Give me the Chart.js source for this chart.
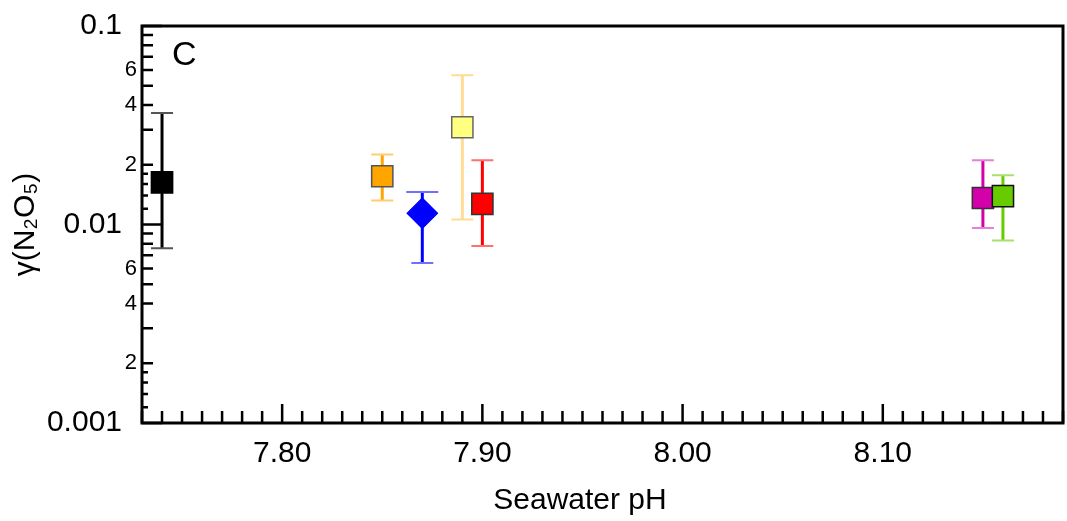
<!DOCTYPE html>
<html>
<head>
<meta charset="utf-8">
<script src="https://cdn.jsdelivr.net/npm/chart.js@4.4.1/dist/chart.umd.min.js"></script>
<style>
html, body { margin: 0; padding: 0; background: #fff; }
canvas { display: block; }
</style>
</head>
<body>
<canvas id="gammaChart" width="1067" height="521"></canvas>
<script>
// one entry per sample, in pH order
const phValues    = [7.74, 7.85, 7.87, 7.89, 7.90, 8.15, 8.16];
const gammaValues = [0.0163, 0.0175, 0.0114, 0.0309, 0.0127, 0.0136, 0.0139];
const gammaLow    = [0.0076, 0.0132, 0.0064, 0.0106, 0.0078, 0.0096, 0.0083];
const gammaHigh   = [0.0365, 0.0225, 0.0146, 0.0565, 0.0211, 0.0211, 0.0177];

const markerFill   = ['#000000', '#ffa500', '#0000ff', '#ffff80', '#ff0000', '#d400aa', '#66cc00'];
const markerBorder = ['#000000', '#555555', '#0000ff', '#666666', '#333333', '#333333', '#111111'];
const markerShape  = ['rect', 'rect', 'rectRot', 'rect', 'rect', 'rect', 'rect'];
const barColor     = ['#000000', '#ffa500', '#0000ff', '#ffdc96', '#ff0000', '#d400aa', '#66cc00'];
const capColor     = ['#555555', '#ffcc70', '#7070ff', '#ffdc96', '#ff7070', '#e680d5', '#a8e070'];
const capTopHalf   = [11, 11, 16, 11, 11, 11, 11];

// axis ticks
const yDecades   = [0.001, 0.01];
const yMantissas = [1, 1.2, 1.4, 1.6, 1.8, 2, 3, 4, 5, 6, 7, 8, 9];
const yLabelVals = [0.001, 0.002, 0.004, 0.006, 0.01, 0.02, 0.04, 0.06, 0.1];
const yLabels    = ['0.001', '2', '4', '6', '0.01', '2', '4', '6', '0.1'];
const xMin = 7.73, xMax = 8.19, xStep = 0.01;
const xLabelVals = [7.80, 7.90, 8.00, 8.10];

const FONT = "'Liberation Sans', Arial, sans-serif";
const same = (a, b) => Math.abs(a / b - 1) < 1e-6;
const isDecade = v => same(v, 0.001) || same(v, 0.01) || same(v, 0.1);

function yLabelFor(v){
  const i = yLabelVals.findIndex(l => same(v, l));
  if (i < 0) return '';
  return isDecade(v) ? yLabels[i] + '\u2002' : yLabels[i];
}

const frame = {
  id: 'frame',
  beforeDatasetsDraw(chart){
    const ctx = chart.ctx, xs = chart.scales.x, ys = chart.scales.y;
    ctx.save();
    phValues.forEach((ph, i) => {
      const x = xs.getPixelForValue(ph);
      const yt = ys.getPixelForValue(gammaHigh[i]);
      const yb = ys.getPixelForValue(gammaLow[i]);
      ctx.strokeStyle = barColor[i];
      ctx.lineWidth = 3;
      ctx.beginPath(); ctx.moveTo(x, yt); ctx.lineTo(x, yb); ctx.stroke();
      ctx.strokeStyle = capColor[i];
      ctx.lineWidth = 2;
      ctx.beginPath();
      ctx.moveTo(x - capTopHalf[i], yt); ctx.lineTo(x + capTopHalf[i], yt);
      ctx.moveTo(x - 11, yb); ctx.lineTo(x + 11, yb);
      ctx.stroke();
    });
    ctx.restore();
  },
  afterDraw(chart){
    const ctx = chart.ctx, a = chart.chartArea, xs = chart.scales.x, ys = chart.scales.y;
    ctx.save();
    ctx.strokeStyle = '#000';
    ctx.lineWidth = 2.5;
    ctx.beginPath();
    ys.ticks.forEach(t => {
      const y = ys.getPixelForValue(t.value);
      const m = t.value / Math.pow(10, Math.floor(Math.log10(t.value) + 1e-9));
      let len = Math.abs(m - Math.round(m)) < 1e-6 ? 11 : 6;
      if (isDecade(t.value)) len = 20;
      ctx.moveTo(a.left, y); ctx.lineTo(a.left + len, y);
    });
    xs.ticks.forEach(t => {
      const x = xs.getPixelForValue(t.value);
      const len = xLabelVals.some(v => Math.abs(v - t.value) < 1e-6) ? 19 : 12;
      ctx.moveTo(x, a.bottom); ctx.lineTo(x, a.bottom - len);
    });
    ctx.stroke();
    ctx.lineWidth = 3;
    ctx.strokeRect(a.left, a.top, a.right - a.left, a.bottom - a.top);
    ctx.fillStyle = '#000';
    ctx.font = '34px ' + FONT;
    ctx.textBaseline = 'alphabetic';
    ctx.textAlign = 'left';
    ctx.fillText('C', 172, 65);
    ctx.restore();
  }
};

new Chart(document.getElementById('gammaChart'), {
  type: 'scatter',
  data: {
    datasets: [{
      data: phValues.map((ph, i) => ({ x: ph, y: gammaValues[i] })),
      pointStyle: markerShape,
      pointRadius: 15,
      pointBackgroundColor: markerFill,
      pointBorderColor: markerBorder,
      pointBorderWidth: 1.5
    }]
  },
  options: {
    responsive: false,
    animation: false,
    layout: { autoPadding: false, padding: { top: 26, right: 4, left: 0, bottom: 0 } },
    plugins: { legend: { display: false }, tooltip: { enabled: false } },
    scales: {
      x: {
        type: 'linear',
        min: xMin, max: xMax,
        afterBuildTicks(s){
          const ticks = [];
          for (let k = Math.round(xMin / xStep); k <= Math.round(xMax / xStep); k++) ticks.push({ value: k * xStep });
          s.ticks = ticks;
        },
        afterFit(s){ s.height = 98; s.paddingLeft = 0; s.paddingRight = 0; },
        grid: { display: false, drawTicks: false },
        border: { display: false },
        ticks: {
          autoSkip: false, maxRotation: 0, padding: 13,
          color: '#000', font: { family: FONT, size: 30 },
          callback: v => xLabelVals.some(l => Math.abs(l - v) < 1e-6) ? v.toFixed(2) : ''
        },
        title: {
          display: true, text: 'Seawater pH\u2003\u2002', color: '#000',
          font: { family: FONT, size: 30 }, padding: { top: 0, bottom: 2 }
        }
      },
      y: {
        type: 'logarithmic',
        min: 0.001, max: 0.1,
        afterBuildTicks(s){
          const ticks = [];
          yDecades.forEach(d => yMantissas.forEach(m => ticks.push({ value: d * m })));
          ticks.push({ value: 0.1 });
          s.ticks = ticks;
        },
        afterFit(s){ s.width = 142; s.paddingTop = 0; s.paddingBottom = 0; },
        grid: { display: false, drawTicks: false },
        border: { display: false },
        ticks: {
          autoSkip: false, padding: 5, color: '#000',
          font: c => ({ family: FONT, size: c.tick && isDecade(c.tick.value) ? 30 : 22 }),
          callback: v => yLabelFor(v)
        },
        title: {
          display: true, text: 'γ(N₂O₅)', color: '#000',
          font: { family: FONT, size: 30 }, padding: { top: 8, bottom: 0 }
        }
      }
    }
  },
  plugins: [frame]
});
</script>
</body>
</html>
